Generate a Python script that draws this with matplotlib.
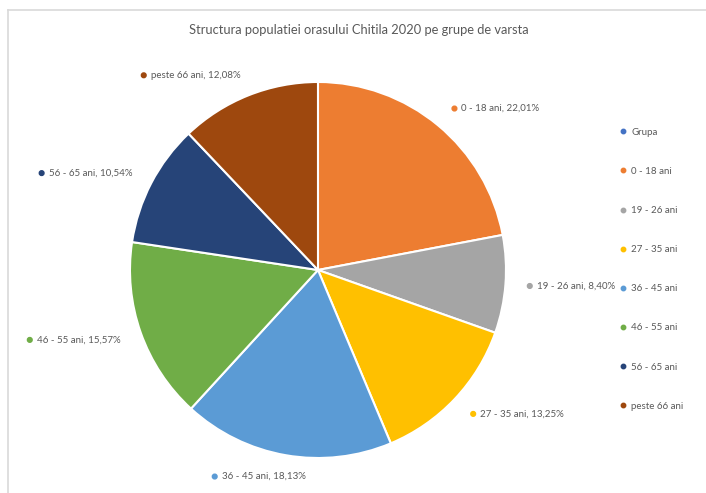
import matplotlib
matplotlib.use("Agg")
import matplotlib.pyplot as plt
import numpy as np
from matplotlib.lines import Line2D
from matplotlib.patches import Circle
from matplotlib.offsetbox import DrawingArea, TextArea, HPacker, AnnotationBbox

title = "Structura populatiei orasului Chitila 2020 pe grupe de varsta"
categories = ["Grupa", "0 - 18 ani", "19 - 26 ani", "27 - 35 ani", "36 - 45 ani",
              "46 - 55 ani", "56 - 65 ani", "peste 66 ani"]
shares = [0, 22.01, 8.40, 13.25, 18.13, 15.57, 10.54, 12.08]
colors = ["#4472C4", "#ED7D31", "#A5A5A5", "#FFC000", "#5B9BD5",
          "#70AD47", "#264478", "#9E480E"]

FONT = "Lato"
GREY = "#595959"

fig = plt.figure(figsize=(7.06, 4.93), dpi=100)
fig.patch.set_facecolor("white")

# faint chart-area border (left and top)
fig.add_artist(Line2D([8/706, 8/706], [0, 1 - 10/493], transform=fig.transFigure,
                      color="#D9D9D9", lw=1.2))
fig.add_artist(Line2D([8/706, 1], [1 - 10/493, 1 - 10/493], transform=fig.transFigure,
                      color="#D9D9D9", lw=1.2))

ax = fig.add_axes([0.1841, 0.071, 0.5326, 0.7627])
wedges, _ = ax.pie(shares, colors=colors, startangle=90, counterclock=False,
                   wedgeprops=dict(edgecolor="white", linewidth=1.5))
ax.set_xlim(-1, 1)
ax.set_ylim(-1, 1)
ax.set_aspect("equal")

for w, cat, val, col in zip(wedges, categories, shares, colors):
    if val <= 0:
        continue
    mid = np.deg2rad((w.theta1 + w.theta2) / 2)
    r = 1.115
    x, y = r * np.cos(mid), r * np.sin(mid)
    c = np.cos(mid)
    if c > 0.3:
        ha = 0.0
    elif c < -0.3:
        ha = 1.0
    else:
        ha = 0.75
    da = DrawingArea(4, 4, 0, 0)
    da.add_artist(Circle((2, 2), 1.7, color=col))
    ta = TextArea(f"{cat}, {val:.2f}%".replace(".", ","),
                  textprops=dict(color=GREY, fontsize=7, family=FONT))
    pack = HPacker(children=[da, ta], pad=0, sep=3, align="center")
    ab = AnnotationBbox(pack, (x, y), xycoords="data", frameon=False,
                        box_alignment=(ha, 0.5), pad=0, annotation_clip=False)
    ax.add_artist(ab)

fig.text(0.508, 0.939, title, ha="center", va="center", fontsize=9.3,
         color=GREY, family=FONT)

handles = [Line2D([], [], marker="o", markersize=3.2, linestyle="none",
                  color=c) for c in colors]
leg = fig.legend(handles, categories, loc="upper left",
                 bbox_to_anchor=(0.879, 0.741), frameon=False,
                 prop=dict(family=FONT, size=7), labelcolor=GREY,
                 handlelength=0.6, handletextpad=0.5, labelspacing=3.10,
                 borderpad=0, borderaxespad=0)

fig.savefig("out.png", dpi=100, facecolor="white")
